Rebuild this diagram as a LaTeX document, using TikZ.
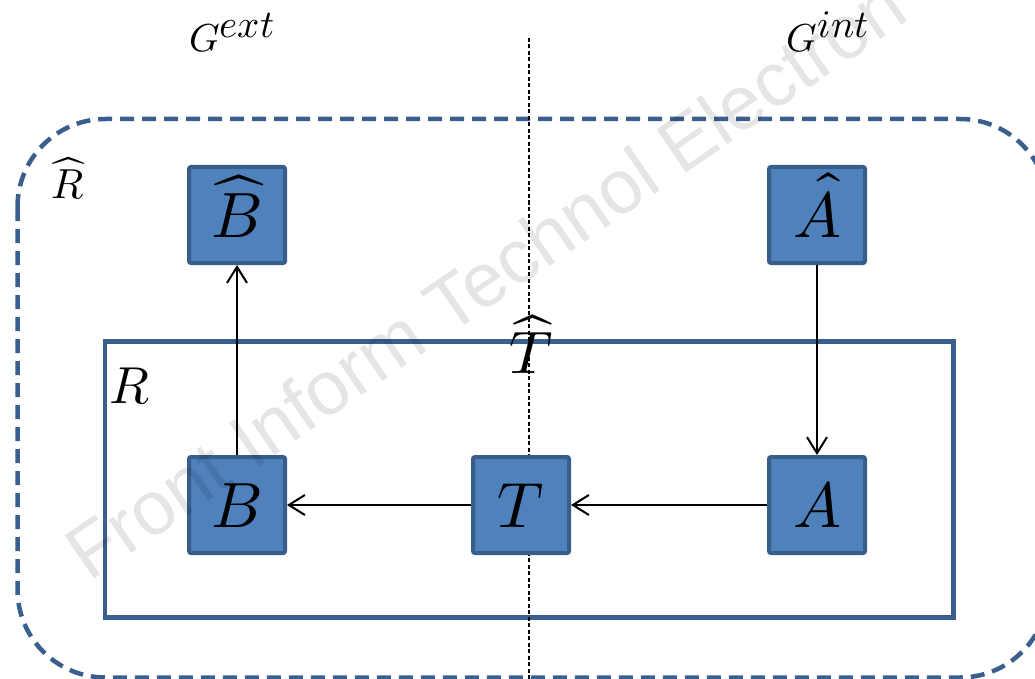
\documentclass[tikz,border=0pt]{standalone}
\usepackage{amsmath}
\usepackage{unicode-math}
\setmathfont{Latin Modern Math}
\newfontfamily\wmfont{Liberation Sans}
\usetikzlibrary{arrows.meta}
\definecolor{boxfill}{HTML}{4F81BD}
\definecolor{boxline}{HTML}{385D8A}
\definecolor{frameblue}{HTML}{3A5F8E}
\tikzset{
  blockbox/.style={draw=boxline, fill=boxfill, line width=4pt, minimum size=96pt,
    inner sep=0pt, rounded corners=2pt, text height=44pt, text depth=0pt,
    font=\fontsize{64}{70}\selectfont},
  arr/.style={draw=black, line width=2pt, -{Straight Barb[length=16pt,width=20pt,line width=2pt]}},
  lbl/.style={inner sep=0pt, anchor=base},
  outerframe/.style={draw=frameblue, line width=4.5pt, dash pattern=on 14pt off 8pt, rounded corners=88pt},
  innerframe/.style={draw=frameblue, line width=4.5pt},
  divider/.style={draw=black, line width=1.5pt, dash pattern=on 4pt off 2.5pt},
}
\begin{document}
\begin{tikzpicture}[x=1pt,y=-1pt]
\useasboundingbox (0,0) rectangle (1035,679);
\begin{scope}
\clip (0,0) rectangle (1035,679);
\draw[outerframe] (17.5,119) rectangle (1048,677.5);
\end{scope}
\draw[innerframe] (105,341.5) rectangle (953.5,617.5);
\coordinate (dtop) at (529,38);
\coordinate (dbot) at (529,679);
\draw[divider] (dtop) -- (dbot);
\node[blockbox] (Bh) at (237,215) {$\widehat{B}$};
\node[blockbox] (Ah) at (817,215) {$\hat{A}$};
\node[blockbox] (B) at (237,505) {$B$};
\node[blockbox] (T) at (521,505) {$T$};
\node[blockbox] (A) at (817,505) {$A$};
\draw[arr] (B.north) -- (Bh.south);
\draw[arr] (Ah.south) -- (A.north);
\draw[arr] (A.west) -- (T.east);
\draw[arr] (T.west) -- (B.east);
\node[lbl, font=\fontsize{39}{44}\selectfont] (Gext) at (232,52) {$G^{\textstyle ext}$};
\node[lbl, font=\fontsize{39}{44}\selectfont] (Gint) at (828,52) {$G^{\textstyle int}$};
\node[lbl, font=\fontsize{42}{48}\selectfont] (Rh) at (68,198) {$\widehat{R}$};
\node[lbl, font=\fontsize{52}{58}\selectfont] (R) at (130,403) {$R$};
\node[lbl, font=\fontsize{60}{64}\selectfont] (Th) at (531,373) {$\widehat{T}$};
\node[text=black, opacity=0.1, font=\wmfont\fontsize{76}{80}\selectfont, rotate=34.5, inner sep=0pt] (wm) at (485,278) {Front Inform Technol Electron};
\end{tikzpicture}
\end{document}
